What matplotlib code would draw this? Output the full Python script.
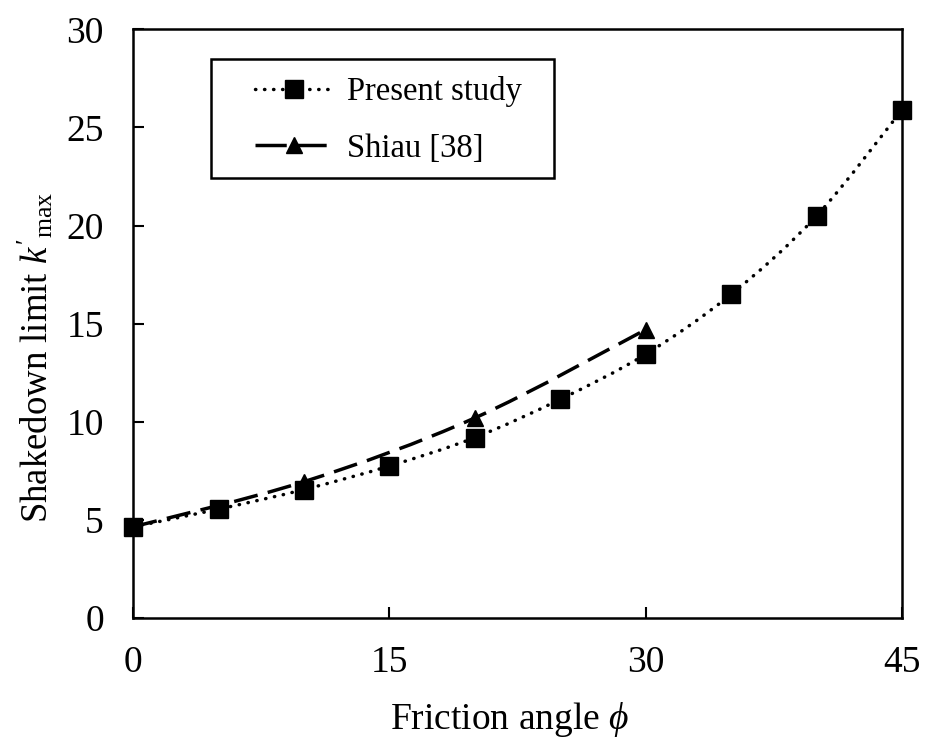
import numpy as np
import matplotlib
matplotlib.use('Agg')
import matplotlib.pyplot as plt
from matplotlib.path import Path
from matplotlib.patches import PathPatch, Rectangle
from matplotlib.lines import Line2D

plt.rcParams['font.family'] = ['Liberation Serif', 'DejaVu Serif']
plt.rcParams['mathtext.fontset'] = 'custom'
plt.rcParams['mathtext.rm'] = 'Liberation Serif'
plt.rcParams['mathtext.it'] = 'Liberation Serif:italic'

# data
present_x = [0, 5, 10, 15, 20, 25, 30, 35, 40, 45]
present_y = [4.65, 5.55, 6.55, 7.75, 9.2, 11.15, 13.45, 16.5, 20.5, 25.9]
shiau_x = [0, 10, 20, 30]
shiau_y = [4.65, 6.95, 10.2, 14.7]

xticks = [0, 15, 30, 45]
yticks = [0, 5, 10, 15, 20, 25, 30]


def smooth_path(xs, ys):
    # catmull-rom style bezier, like excel smoothed lines
    p = np.column_stack([xs, ys]).astype(float)
    verts = [p[0]]
    codes = [Path.MOVETO]
    n = len(p)
    for i in range(n - 1):
        p0 = p[i - 1] if i > 0 else p[i]
        p3 = p[i + 2] if i + 2 < n else p[i + 1]
        c1 = p[i] + (p[i + 1] - p0) / 6.0
        c2 = p[i + 1] - (p3 - p[i]) / 6.0
        verts += [c1, c2, p[i + 1]]
        codes += [Path.CURVE4] * 3
    return Path(verts, codes)


lw = 2.5
dot_style = (0, (0.1, 2.5))
dash_style = (0, (7, 3))

fig = plt.figure(figsize=(9.31, 7.51), dpi=100)
ax = fig.add_axes([0.143, 0.177, 0.826, 0.784])

ax.add_patch(PathPatch(smooth_path(shiau_x, shiau_y), fill=False, color='black',
                       lw=lw, linestyle=dash_style, capstyle='butt'))
ax.add_patch(PathPatch(smooth_path(present_x, present_y), fill=False, color='black',
                       lw=lw, linestyle=dot_style, capstyle='round'))
ax.plot(shiau_x, shiau_y, linestyle='none', marker='^', ms=12, color='black', clip_on=False)
ax.plot(present_x, present_y, linestyle='none', marker='s', ms=12.5, color='black', clip_on=False)

ax.set_xlim(0, 45)
ax.set_ylim(0, 30)
ax.set_xticks(xticks)
ax.set_yticks(yticks)
ax.tick_params(direction='in', length=8, width=1.5, labelsize=27)
ax.tick_params(axis='x', pad=20)
ax.tick_params(axis='y', pad=21)
for s in ax.spines.values():
    s.set_linewidth(1.8)

ax.set_xlabel(r'Friction angle $\phi$', fontsize=27, labelpad=14)
ax.set_ylabel(r"Shakedown limit $k'_{\mathrm{max}}$", fontsize=26.5, labelpad=8)
ax.xaxis.label.set_x(0.49)
ax.yaxis.label.set_y(0.442)

handles = [
    Line2D([], [], color='black', lw=lw, linestyle=dot_style, dash_capstyle='round',
           marker='s', ms=12.5),
    Line2D([], [], color='black', lw=lw, linestyle=(0, (9, 2.5)), marker='^', ms=12),
]
leg = ax.legend(handles, ['Present study', 'Shiau [38]'], loc='center',
                bbox_to_anchor=(0.332, 0.846), fontsize=23.5, frameon=False,
                handlelength=2.4, labelspacing=0.8, handletextpad=0.4,
                borderpad=0, borderaxespad=0)
ax.add_patch(Rectangle((0.1014, 0.747), 0.4461, 0.202, transform=ax.transAxes,
                       fill=False, edgecolor='black', lw=1.8, zorder=5))

fig.savefig('out.png', dpi=100)
